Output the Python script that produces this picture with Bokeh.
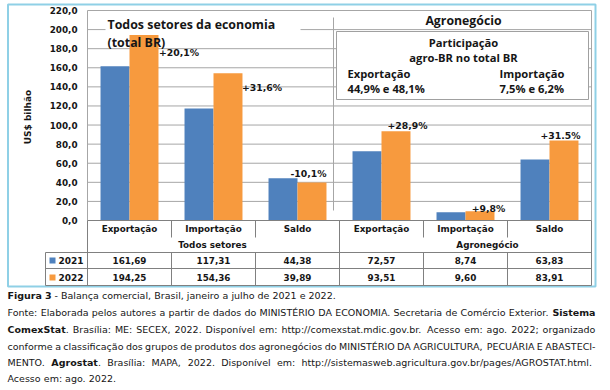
import numpy as np
from bokeh.plotting import figure
from bokeh.models import Range1d
from bokeh.core.properties import value
from bokeh.embed import file_html
from bokeh.resources import INLINE

# ---------------- data ----------------
CATEGORIES = ["Exportação", "Importação", "Saldo", "Exportação", "Importação", "Saldo"]
GROUPS = ["Todos setores", "Agronegócio"]
SERIES = ["2021", "2022"]
V2021 = [161.69, 117.31, 44.38, 72.57, 8.74, 63.83]
V2022 = [194.25, 154.36, 39.89, 93.51, 9.60, 83.91]
CHANGE = ["+20,1%", "+31,6%", "-10,1%", "+28,9%", "+9,8%", "+31.5%"]
YTICKS = [0, 20, 40, 60, 80, 100, 120, 140, 160, 180, 200, 220]
TITLE_LEFT = ["Todos setores da economia", "(total BR)"]
TITLE_RIGHT = "Agronegócio"
SHARE_TITLE = ["Participação", "agro-BR no total BR"]
SHARE_EXP = ["Exportação", "44,9% e 48,1%"]
SHARE_IMP = ["Importação", "7,5% e 6,2%"]
Y_LABEL = "US$  bilhão"
CAPTION = [
    [("Figura 3", True), (" - Balança comercial, Brasil, janeiro a julho de 2021 e 2022.", False)],
    [("Fonte: Elaborada pelos autores a partir de dados do MINISTÉRIO DA ECONOMIA. Secretaria de Comércio Exterior. ", False), ("Sistema", True)],
    [("ComexStat", True), (". Brasília: ME: SECEX, 2022. Disponível em: http://comexstat.mdic.gov.br. Acesso em: ago. 2022; organizado", False)],
    [("conforme a classificação dos grupos de produtos dos agronegócios do MINISTÉRIO DA AGRICULTURA, PECUÁRIA E ABASTECI-", False)],
    [("MENTO. ", False), ("Agrostat", True), (". Brasília: MAPA, 2022. Disponível em: http://sistemasweb.agricultura.gov.br/pages/AGROSTAT.html.", False)],
    [("Acesso em: ago. 2022.", False)],
]
CAPTION_JUSTIFY = [False, True, True, True, True, False]

# ---------------- layout (page pixels) ----------------
PL, PT = 0, 0
W, H = 608, 388
FX0, CATW = 87, 84       # left edge of plot area, pixels per category
FY0, FYTOP = 220, 10     # y pixel of value 0 and of value 220
PPY = (FY0 - FYTOP) / 220.0

def X(px):
    return (px - FX0) / CATW

def Y(py):
    return (FY0 - py) / PPY

BLUE = "#4F81BD"
ORANGE = "#F79A3E"
GRID = "#A6A6A6"
TABLE = "#808080"
FRAME = "#8FD0E6"
TXT = "#161616"
HFONT = "Open Sans"

p = figure(width=W, height=H, x_range=Range1d(X(PL), X(PL + W)), y_range=Range1d(Y(PT + H), Y(PT)),
           output_backend="svg", toolbar_location=None, x_axis_type=None, y_axis_type=None,
           min_border=0, title=None)
p.min_border_left = p.min_border_right = p.min_border_top = p.min_border_bottom = 0
p.outline_line_color = None
p.background_fill_color = "white"
p.border_fill_color = "white"


def T(x, y, s, size="8.8px", font="DejaVu Sans", bold=True, align="center", baseline="middle", angle=0.0):
    p.text(x=[x], y=[y], text=[s], text_font=value(font), text_font_size=value(size),
           text_font_style="bold" if bold else "normal", text_align=align, text_baseline=baseline,
           text_color=TXT, angle=angle)


def seg(x0, y0, x1, y1, color, w=1.0):
    p.segment(x0=[x0], y0=[y0], x1=[x1], y1=[y1], line_color=color, line_width=w)

n = len(CATEGORIES)
centers = [i + 0.5 for i in range(n)]
BW = 0.345

# outer blue frame
p.quad(left=[X(7.5)], right=[X(595)], top=[Y(4)], bottom=[Y(286)], fill_color=None, line_color=FRAME, line_width=2)

# gridlines
for t in YTICKS[1:-1]:
    seg(0, t, n, t, GRID)
# plot frame
seg(0, YTICKS[-1], n, YTICKS[-1], GRID)
seg(0, 0, 0, YTICKS[-1], GRID)
seg(n, 0, n, YTICKS[-1], GRID)

# white boxes behind titles
p.quad(left=[X(105)], right=[X(300)], top=[Y(14)], bottom=[Y(36)], fill_color="white", line_color=None)
p.quad(left=[X(336)], right=[X(588)], top=[Y(31)], bottom=[Y(99)], fill_color="white", line_color="#A0A0A0")
# separator
seg(X(333), Y(17), X(333), Y(210), GRID)

# bars
p.vbar(x=[c - BW / 2 for c in centers], width=BW, top=V2021, bottom=0, fill_color=BLUE, line_color=None)
p.vbar(x=[c + BW / 2 for c in centers], width=BW, top=V2022, bottom=0, fill_color=ORANGE, line_color=None)

# change labels (offsets relative to the 2022 bar, in pixels)
LBL_OFF = [(0.5, 17.4, "left"), (-0.5, 14.3, "left"), (-3.5, -8.9, "center"),
           (11.5, -5.7, "center"), (8.5, -2.8, "center"), (-3.5, -4.9, "center")]
for i, (c, v, s) in enumerate(zip(centers, V2022, CHANGE)):
    dx, dy, al = LBL_OFF[i]
    xb = c + BW if al == "left" else c + BW / 2
    T(xb + dx / CATW, v - dy / PPY, s, size="9.3px", align=al)

# y tick labels
for t in YTICKS:
    T(X(77), t, f"{t:.1f}".replace(".", ","), size="8.8px", align="right")
T(X(27), Y(115), Y_LABEL, size="9px", angle=np.pi / 2)

# titles
T(X(107), Y(24), TITLE_LEFT[0], size="12.4px", font=HFONT, align="left")
T(X(107), Y(42), TITLE_LEFT[1], size="12.4px", font=HFONT, align="left")
T(X(463), Y(20), TITLE_RIGHT, size="12.3px", font=HFONT)
T(X(463), Y(42), SHARE_TITLE[0], size="11.2px", font=HFONT)
T(X(463), Y(57), SHARE_TITLE[1], size="11.2px", font=HFONT)
T(X(347), Y(73), SHARE_EXP[0], size="11.2px", font=HFONT, align="left")
T(X(347), Y(88), SHARE_EXP[1], size="11.2px", font=HFONT, align="left")
T(X(499), Y(73), SHARE_IMP[0], size="11.2px", font=HFONT, align="left")
T(X(499), Y(88), SHARE_IMP[1], size="11.2px", font=HFONT, align="left")

# ---------------- data table ----------------
yh, yg, yr1, yr2 = Y(237), Y(252), Y(268), Y(285)
LX = X(45)
seg(0, 0, n, 0, "#808080", 1.2)
for yy in (yg, yr1, yr2):
    seg(LX, yy, n, yy, TABLE)
seg(LX, yg, LX, yr2, TABLE)
for b in range(n + 1):
    if b % 3 == 0:
        seg(b, 0, b, yr2, TABLE)
    else:
        seg(b, 0, b, yh, TABLE)
        seg(b, yg, b, yr2, TABLE)
for c, s in zip(centers, CATEGORIES):
    T(c, Y(228), s)
T(X(212), Y(244), GROUPS[0])
T(X(487), Y(244), GROUPS[1])
for (vals, col, ry, name) in ((V2021, BLUE, Y(260), SERIES[0]), (V2022, ORANGE, Y(277), SERIES[1])):
    p.quad(left=[X(49)], right=[X(55)], top=[ry + 3 / PPY], bottom=[ry - 3 / PPY], fill_color=col, line_color=None)
    T(X(58), ry, name, size="9px", align="left")
    for c, v in zip(centers, vals):
        T(c, ry, f"{v:.2f}".replace(".", ","))

# ---------------- caption (justified, DejaVu Sans metrics) ----------------
REG = dict(zip("abcdefghijklmnopqrstuvwxyz",
               [.613, .635, .550, .635, .615, .352, .635, .634, .278, .278, .579, .278, .974,
                .634, .612, .635, .635, .411, .521, .392, .634, .592, .818, .592, .592, .525]))
REG.update(dict(zip("ABCDEFGHIJKLMNOPQRSTUVWXYZ",
               [.684, .686, .698, .770, .632, .575, .775, .752, .295, .295, .656, .557, .863,
                .748, .787, .603, .787, .695, .635, .611, .732, .684, .989, .685, .611, .685])))
REG.update({d: .636 for d in "0123456789"})
REG.update({" ": .318, ".": .318, ",": .318, ":": .337, ";": .337, "-": .361, "/": .337, "%": .950})
BLD = dict(zip("abcdefghijklmnopqrstuvwxyz",
               [.675, .716, .593, .716, .678, .435, .716, .712, .343, .343, .665, .343, 1.042,
                .712, .687, .716, .716, .493, .595, .478, .712, .652, .924, .645, .652, .582]))
BLD.update(dict(zip("ABCDEFGHIJKLMNOPQRSTUVWXYZ",
               [.774, .762, .734, .830, .683, .683, .821, .837, .372, .372, .775, .637, .995,
                .837, .850, .733, .850, .770, .720, .682, .812, .774, 1.103, .771, .724, .725])))
BLD.update({d: .696 for d in "0123456789"})
BLD.update({" ": .348, ".": .380, ",": .380, ":": .400, ";": .400, "-": .415, "/": .365, "%": 1.002})
BASE = str.maketrans("áàâãäéêíóôõúçÁÂÃÉÍÓÚÇ", "aaaaaeeiooouc" + "AAAEIOUC")
CFS = 9.5


def tw(s, bold):
    tab = BLD if bold else REG
    return sum(tab.get(ch.translate(BASE), 0.6) for ch in s) * CFS


def words_of(line):
    words = [[]]
    for s, b in line:
        for k, part in enumerate(s.split(" ")):
            if k > 0:
                words.append([])
            if part:
                words[-1].append((part, b))
    return [w for w in words if w]

CAP_Y = [295, 312, 329, 346, 362, 378]
CAP_L, CAP_R = 7, 595
cx = {True: [], False: []}
cy = {True: [], False: []}
ct = {True: [], False: []}
for line, yy, just in zip(CAPTION, CAP_Y, CAPTION_JUSTIFY):
    words = words_of(line)
    widths = [sum(tw(s, b) for s, b in w) for w in words]
    if just and len(words) > 1:
        gap = (CAP_R - CAP_L - sum(widths)) / (len(words) - 1)
    else:
        gap = REG[" "] * CFS
    xx = CAP_L
    for w, wd in zip(words, widths):
        px = xx
        for s, b in w:
            cx[b].append(X(px)); cy[b].append(Y(yy)); ct[b].append(s)
            px += tw(s, b)
        xx += wd + gap
for b in (False, True):
    p.text(x=cx[b], y=cy[b], text=ct[b], text_font=value("DejaVu Sans"), text_font_size=value(f"{CFS}px"),
           text_font_style="bold" if b else "normal", text_align="left", text_baseline="middle", text_color=TXT)

open("out.html", "w").write(file_html(p, INLINE))
